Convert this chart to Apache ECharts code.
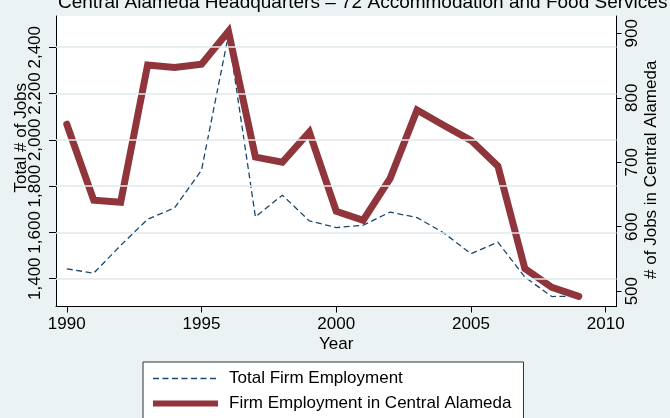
<!DOCTYPE html>
<html>
<head>
<meta charset="utf-8">
<script src="https://cdn.jsdelivr.net/npm/echarts@6/dist/echarts.min.js"></script>
<style>
  html, body { margin: 0; padding: 0; background: #eaf2f3; }
  #main { width: 670px; height: 418px; }
</style>
</head>
<body>
<div id="main"></div>
<script>
// data
var years = [1990, 1991, 1992, 1993, 1994, 1995, 1996, 1997, 1998, 1999,
             2000, 2001, 2002, 2003, 2004, 2005, 2006, 2007, 2008, 2009];
var totalJobs = [1443, 1424, 1544, 1657, 1706, 1869, 2453, 1667, 1761, 1650,
                 1621, 1631, 1688, 1664, 1597, 1508, 1558, 1407, 1323, 1325];
var centralJobs = [759, 641, 638, 851, 847, 852, 903, 708, 700, 747,
                   624, 610, 675, 781, 757, 734, 694, 535, 506, 492];

var yearTicks = [1990, 1995, 2000, 2005, 2010];
var totalTicks = [1400, 1600, 1800, 2000, 2200, 2400];
var centralTicks = [500, 600, 700, 800, 900];

var font = "'Liberation Sans', Arial, sans-serif";
var myChart = echarts.init(document.getElementById('main'));

function commas(v) {
  return String(v).replace(/\B(?=(\d{3})+(?!\d))/g, ',');
}

var option = {
  animation: false,
  backgroundColor: '#eaf2f3',
  textStyle: { fontFamily: font, color: '#000' },
  title: {
    text: 'Central Alameda Headquarters \u2013 72 Accommodation and Food Services',
    left: 58,
    top: -7,
    padding: 0,
    textStyle: { fontSize: 19, fontWeight: 'normal', color: '#000', fontFamily: font }
  },
  legend: {
    orient: 'vertical',
    left: 143,
    top: 362,
    height: 120,
    padding: [8, 12, 8, 7],
    backgroundColor: '#fff',
    borderColor: '#333',
    borderWidth: 1,
    borderRadius: 0,
    itemWidth: 65,
    itemHeight: 17,
    itemGap: 8,
    textStyle: { fontSize: 17, color: '#000', padding: [0, 0, 0, 6] },
    data: [
      { name: 'Total Firm Employment',
        lineStyle: { width: 1.3, cap: 'butt' }, itemStyle: { opacity: 0 } },
      { name: 'Firm Employment in Central Alameda',
        lineStyle: { width: 6, cap: 'butt' }, itemStyle: { opacity: 0 } }
    ]
  },
  grid: {
    left: 56, right: 53.5, top: 16, bottom: 111.5,
    show: true, backgroundColor: '#fff', borderWidth: 0,
    outerBoundsMode: 'none'
  },
  xAxis: {
    type: 'value',
    min: 1989.6,
    max: 2010.4,
    name: 'Year',
    nameLocation: 'middle',
    nameGap: 29,
    nameMoveOverlap: false,
    nameTextStyle: { fontSize: 17, color: '#000' },
    axisLine: { show: true, lineStyle: { color: '#000', width: 1 } },
    axisTick: { show: true, length: 6, customValues: yearTicks, lineStyle: { color: '#000' } },
    axisLabel: { fontSize: 17, color: '#000', margin: 9, customValues: yearTicks,
                 formatter: function (v) { return String(v); } },
    splitLine: { show: false }
  },
  yAxis: [
    {
      type: 'value',
      position: 'left',
      min: 1280,
      max: 2535,
      name: 'Total # of Jobs',
      nameLocation: 'middle',
      nameGap: 26,
      nameMoveOverlap: false,
      nameTextStyle: { fontSize: 17, color: '#000', padding: [0, 0, 0, 47] },
      axisLine: { show: true, lineStyle: { color: '#000', width: 1 } },
      axisTick: { show: true, length: 7, customValues: totalTicks, lineStyle: { color: '#000' } },
      axisLabel: { fontSize: 17, color: '#000', rotate: 90, margin: 12,
                   customValues: totalTicks, formatter: commas },
      splitLine: { show: false }
    },
    {
      type: 'value',
      position: 'right',
      min: 476.2,
      max: 926.9,
      name: '# of Jobs in Central Alameda',
      nameLocation: 'middle',
      nameGap: 26,
      nameMoveOverlap: false,
      nameTextStyle: { fontSize: 17, color: '#000', padding: [0, 17, 0, 0] },
      axisLine: { show: true, lineStyle: { color: '#000', width: 1 } },
      axisTick: { show: true, length: 5, customValues: centralTicks, lineStyle: { color: '#000' } },
      axisLabel: { fontSize: 17, color: '#000', rotate: 90, margin: 7, customValues: centralTicks },
      splitLine: { show: false }
    }
  ],
  series: [
    {
      name: 'Total Firm Employment',
      type: 'line',
      yAxisIndex: 0,
      data: years.map(function (y, i) { return [y, totalJobs[i]]; }),
      symbol: 'none',
      color: '#1a476f',
      lineStyle: { color: '#1a476f', width: 1.3, type: [6, 3.5] },
      markLine: {
        silent: true,
        symbol: 'none',
        label: { show: false },
        lineStyle: { color: '#e1eaee', width: 1.5, type: 'solid' },
        data: totalTicks.map(function (v) { return { yAxis: v }; })
      }
    },
    {
      name: 'Firm Employment in Central Alameda',
      type: 'line',
      yAxisIndex: 1,
      data: years.map(function (y, i) { return [y, centralJobs[i]]; }),
      symbol: 'none',
      color: '#90353b',
      lineStyle: { color: '#90353b', width: 7, cap: 'round', join: 'miter' }
    }
  ]
};
myChart.setOption(option);
</script>
</body>
</html>
